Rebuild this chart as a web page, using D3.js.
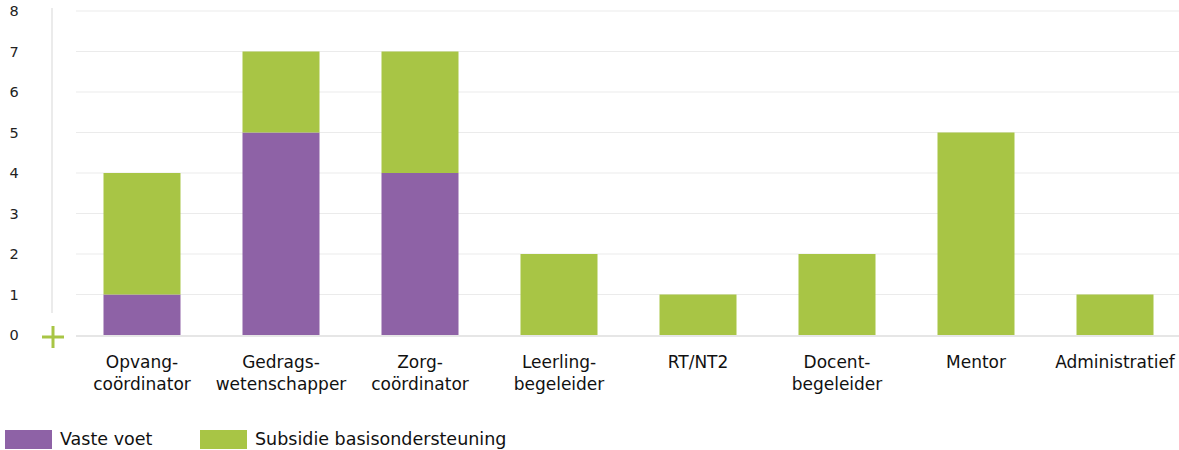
<!DOCTYPE html>
<html><head><meta charset="utf-8">
<script src="https://cdn.jsdelivr.net/npm/d3@7"></script>
<style>body{margin:0;background:#fff}svg{display:block;font-family:"DejaVu Sans","Noto Sans",sans-serif}</style>
</head><body><svg id="c" width="1179" height="450"></svg>
<script>
const categories = [["Opvang-","coördinator"],["Gedrags-","wetenschapper"],["Zorg-","coördinator"],["Leerling-","begeleider"],["RT/NT2"],["Docent-","begeleider"],["Mentor"],["Administratief"]];
const vasteVoet = [1,5,4,0,0,0,0,0];
const subsidie = [3,2,3,2,1,2,5,1];
const seriesNames = ["Vaste voet","Subsidie basisondersteuning"];
const colors = ["#8e62a6","#a8c545"];
const yTicks = [0,1,2,3,4,5,6,7,8];

const svg = d3.select("#c");
const keys = categories.map(c=>c.join(""));
const x = d3.scaleBand().domain(keys).range([72.5,1184.5]).paddingInner(0.446).paddingOuter(0.223);
const y = d3.scaleLinear().domain([0,8]).range([335,11]);

svg.append("g").selectAll("line").data(yTicks.filter(t=>t>0)).join("line")
  .attr("x1",76).attr("x2",1179).attr("y1",d=>y(d)).attr("y2",d=>y(d))
  .attr("stroke","#ebebeb").attr("stroke-width",1);
svg.append("line").attr("x1",52).attr("x2",52).attr("y1",8).attr("y2",313).attr("stroke","#ebebeb").attr("stroke-width",2);

const data = keys.map((k,i)=>({k, v:vasteVoet[i], s:subsidie[i]}));
const stack = d3.stack().keys(["v","s"])(data);
svg.append("g").selectAll("g").data(stack).join("g").attr("fill",(d,i)=>colors[i])
  .selectAll("rect").data(d=>d.filter(p=>p[1]>p[0])).join("rect")
  .attr("x",d=>x(d.data.k)).attr("width",x.bandwidth())
  .attr("y",d=>y(d[1])).attr("height",d=>y(d[0])-y(d[1]));

svg.append("line").attr("x1",76).attr("x2",1179).attr("y1",y(0)+1).attr("y2",y(0)+1).attr("stroke","#e6e6e6").attr("stroke-width",2);
const pg = svg.append("g").attr("stroke","#a8c545").attr("stroke-width",3);
pg.append("line").attr("x1",42).attr("x2",64).attr("y1",337).attr("y2",337);
pg.append("line").attr("x1",53).attr("x2",53).attr("y1",326).attr("y2",348);

svg.append("g").selectAll("text").data(yTicks).join("text")
  .attr("x",14).attr("y",d=>y(d)+5).attr("text-anchor","middle")
  .attr("font-size",14.5).attr("fill","#222").text(d=>d);

const xl = svg.append("g").selectAll("text").data(categories).join("text")
  .attr("text-anchor","middle").attr("font-size",17).attr("fill","#111")
  .attr("transform",(d,i)=>`translate(${x(keys[i])+x.bandwidth()/2},368)`);
xl.selectAll("tspan").data(d=>d).join("tspan").attr("x",0).attr("dy",(d,i)=>i?22:0).text(d=>d);

const lx = [5,200];
const lg = svg.append("g").selectAll("g").data(seriesNames).join("g").attr("transform",(d,i)=>`translate(${lx[i]},430)`);
lg.append("rect").attr("width",47).attr("height",19).attr("fill",(d,i)=>colors[i]);
lg.append("text").attr("x",55).attr("y",15).attr("font-size",17.5).attr("fill","#111").text(d=>d);
</script></body></html>
